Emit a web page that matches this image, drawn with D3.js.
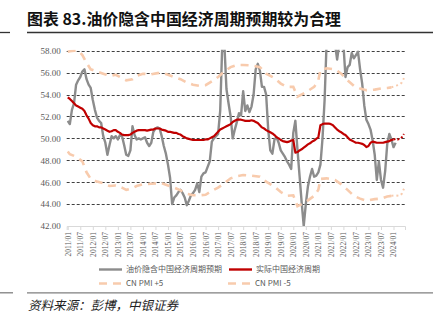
<!DOCTYPE html>
<html><head><meta charset="utf-8">
<script src="https://cdn.jsdelivr.net/npm/d3@7"></script>
<style>body{margin:0;background:#fff}</style></head>
<body><svg id="c" width="436" height="334"></svg>
<script>
// ---- data (monthly, starting 2011/01) ----
const startYear = 2011;
const tickLabels = ["2011/01","2011/07","2012/01","2012/07","2013/01","2013/07","2014/01","2014/07","2015/01","2015/07","2016/01","2016/07","2017/01","2017/07","2018/01","2018/07","2019/01","2019/07","2020/01","2020/07","2021/01","2021/07","2022/01","2022/07","2023/01","2023/07","2024/01"];
const yTicks = [42,44,46,48,50,52,54,56,58];

// 油价隐含中国经济周期预期 (monthly from 2011/01)
const oilImplied = [51.6,51.3,52.6,53.2,54.9,55.3,55.6,56.1,56.3,55.4,54.9,54.6,
53.5,52.6,51.9,51.6,51.4,50.2,49.6,48.5,49.4,50.2,50.0,50.2,
49.9,50.3,50.2,49.4,48.5,48.4,48.9,51.1,50.3,49.9,50.0,49.9,
50.0,50.1,49.6,49.3,49.6,50.6,50.9,51.0,50.9,50.2,49.3,48.6,
47.6,46.4,44.0,44.6,44.8,45.1,45.3,45.0,44.6,43.9,44.3,44.8,
45.0,45.3,45.9,45.1,46.5,46.8,46.9,47.4,47.9,49.7,50.0,50.2,
50.4,52.5,58.6,58.6,54.5,53.2,52.0,50.0,50.8,51.5,52.3,52.1,
54.3,52.5,53.0,52.4,52.9,54.0,56.3,56.8,56.2,54.7,54.7,54.0,
50.8,48.9,48.6,49.9,50.1,49.6,48.9,48.6,48.3,47.9,47.6,47.2,
50.5,51.6,49.0,46.6,44.2,42.0,44.0,45.6,46.5,47.2,46.5,46.6,
46.9,47.6,50.0,53.5,59.0,60.0,61.0,60.0,58.6,57.2,58.6,59.5,
58.6,55.6,56.5,56.7,57.8,57.3,57.6,57.9,56.3,55.0,53.0,51.7,
51.3,50.8,49.8,48.5,46.2,47.9,46.2,45.5,47.0,49.5,50.4,49.9,
49.2,49.6];

// 实际中国经济周期 (monthly from 2011/01; last points are the dotted tail)
const actualCycle = [53.75,53.6,53.4,53.2,53.0,52.9,52.8,52.7,52.5,52.1,51.8,51.4,
51.2,51.1,51.1,51.0,51.0,50.9,50.8,50.7,50.6,50.65,50.75,50.75,
50.6,50.5,50.35,50.3,50.3,50.3,50.35,50.5,50.6,50.7,50.75,50.75,
50.75,50.75,50.7,50.75,50.8,50.8,50.9,50.9,50.9,50.8,50.75,50.7,
50.6,50.6,50.55,50.5,50.5,50.4,50.35,50.2,50.1,50.0,49.95,49.9,
49.85,49.85,49.85,49.85,49.85,49.85,49.9,49.9,50.0,50.1,50.2,50.4,
50.6,50.8,50.9,51.0,51.1,51.2,51.3,51.5,51.6,51.7,51.7,51.7,
51.65,51.6,51.6,51.6,51.65,51.6,51.5,51.4,51.2,51.0,50.9,50.75,
50.65,50.55,50.45,50.3,50.1,50.0,49.85,49.75,49.7,49.65,49.7,49.8,
49.85,48.7,48.75,48.9,49.0,49.15,49.3,49.45,49.55,49.7,49.8,49.95,
50.1,51.2,51.3,51.35,51.35,51.35,51.3,51.2,51.0,50.8,50.65,50.55,
50.4,50.3,50.1,49.9,49.8,49.7,49.6,49.6,49.55,49.5,49.4,49.2,
49.3,49.6,49.7,49.65,49.6,49.6,49.6,49.6,49.65,49.7,49.75,49.85,
49.9,49.95,49.9,49.95,50.1,50.4];
const actualSolidEnd = 156; // month index where dotted tail begins

// CN PMI +5 / -5 (read at these month offsets from 2011/01)
const pmiMonths = [0,1,3,5,7,9,11,14,17,20,23,26,28,31,33,36,40,43,45,48,51,54,57,60,63,66,69,72,75,78,81,84,88,92,95,99,102,105,108,110,114,118,120,121,124,128,131,134,137,140,143,147,150,153,155,157,159,160,161];
const pmiPlus5 = [57.9,57.95,58.0,58.0,57.6,56.9,56.3,56.1,55.9,55.7,55.8,55.5,55.3,55.4,55.7,55.9,55.85,55.95,56.0,55.8,55.6,55.4,55.1,54.9,54.8,54.85,55.2,55.6,56.1,56.5,56.7,56.7,56.65,56.5,55.9,55.5,55.0,54.7,54.7,53.8,54.2,54.7,55.3,56.25,56.4,56.3,55.9,55.3,54.8,54.55,54.4,54.45,54.55,54.6,54.65,54.8,54.9,55.1,55.5];
const pmiMinus5 = [48.8,48.55,48.4,48.2,47.9,46.9,46.3,46.05,45.9,45.65,45.7,45.5,45.3,45.45,45.65,45.8,45.85,45.9,45.9,45.7,45.5,45.25,44.95,44.8,44.8,44.85,45.2,45.5,45.9,46.35,46.55,46.65,46.6,46.5,46.05,45.6,45.1,44.75,44.8,43.8,44.2,44.75,45.3,46.3,46.35,46.2,45.8,45.3,44.75,44.5,44.3,44.45,44.5,44.7,44.75,44.8,44.75,44.95,45.4];
const pmiSolidEnd = 155;

const seriesNames = ["油价隐含中国经济周期预期","实际中国经济周期","CN PMI +5","CN PMI -5"];
const colors = {oil:"#8c8c8c", actual:"#c00000", pmi:"#f8cbad"};

// ---- drawing ----
const svg = d3.select("#c");
const L = 66.7, R = 405, T = 50.7, B = 226;
const x = d3.scaleLinear().domain([-0.5, 161.5]).range([L, R]);
const y = d3.scaleLinear().domain([42, 58]).range([B, T]);
const idx = s => (+s.slice(0,4) - startYear) * 12 + (+s.slice(5,7) - 1);

// title
svg.append("text").attr("x",27).attr("y",25)
  .attr("font-family","'Noto Sans CJK SC','Noto Sans',sans-serif")
  .attr("font-weight","bold").attr("font-size",15.5).attr("fill","#111")
  .attr("textLength",314).attr("lengthAdjust","spacingAndGlyphs")
  .text("图表 83.油价隐含中国经济周期预期较为合理");
svg.append("line").attr("x1",0).attr("x2",10).attr("y1",32.5).attr("y2",32.5).attr("stroke","#333").attr("stroke-width",1.3);
svg.append("line").attr("x1",27).attr("x2",433).attr("y1",32.5).attr("y2",32.5).attr("stroke","#333").attr("stroke-width",1.3);

// gridlines
svg.append("g").selectAll("line").data(yTicks.filter(v => v > 42)).join("line")
  .attr("x1",L).attr("x2",R).attr("y1",d=>Math.round(y(d))+0.5).attr("y2",d=>Math.round(y(d))+0.5)
  .attr("stroke","#404040").attr("stroke-width",1).attr("stroke-dasharray","3,2");

// y axis
const ya = svg.append("g").attr("transform",`translate(${L-4},0)`)
  .call(d3.axisLeft(y).tickValues(yTicks).tickFormat(d3.format(".2f")).tickSize(0).tickPadding(2));
ya.select(".domain").remove();
ya.selectAll("text").attr("font-family","'Liberation Serif',serif").attr("font-size",9).attr("fill","#595959");

// x axis
const xa = svg.append("g").attr("transform",`translate(0,${B})`)
  .call(d3.axisBottom(x).tickValues(tickLabels.map(idx)).tickSize(4)
    .tickFormat(d => tickLabels.find(t => idx(t) === d)));
xa.select(".domain").attr("stroke","#d9d9d9");
xa.selectAll(".tick line").attr("stroke","#d9d9d9");
xa.selectAll("text").attr("transform","rotate(-90)").attr("text-anchor","end")
  .attr("x",-6).attr("y",0).attr("dy","0.32em")
  .attr("font-family","'Liberation Serif',serif").attr("font-size",7.6).attr("fill","#595959");

// clip
svg.append("clipPath").attr("id","clip").append("rect").attr("x",L).attr("y",T-1).attr("width",R-L).attr("height",B-T+1);
const plot = svg.append("g").attr("clip-path","url(#clip)");
const line = d3.line().x(d=>x(d[0])).y(d=>y(d[1]));

const oilPts = oilImplied.map((v,i)=>[i,v]);
const actPts = actualCycle.map((v,i)=>[i,v]);
const upPts = pmiMonths.map((m,i)=>[m,pmiPlus5[i]]);
const loPts = pmiMonths.map((m,i)=>[m,pmiMinus5[i]]);

plot.append("path").attr("d",line(oilPts)).attr("fill","none").attr("stroke",colors.oil).attr("stroke-width",2.4).attr("stroke-linejoin","round");
plot.append("path").attr("d",line(actPts.filter(d=>d[0]<=actualSolidEnd))).attr("fill","none").attr("stroke",colors.actual).attr("stroke-width",2.2).attr("stroke-linejoin","round");
plot.append("path").attr("d",line(actPts.filter(d=>d[0]>=actualSolidEnd))).attr("fill","none").attr("stroke",colors.actual).attr("stroke-width",2).attr("stroke-dasharray","2,2");
[upPts, loPts].forEach(pts => {
  plot.append("path").attr("d",line(pts.filter(d=>d[0]<=pmiSolidEnd))).attr("fill","none").attr("stroke",colors.pmi).attr("stroke-width",2.6).attr("stroke-dasharray","8,6");
  plot.append("path").attr("d",line(pts.filter(d=>d[0]>=pmiSolidEnd))).attr("fill","none").attr("stroke",colors.pmi).attr("stroke-width",2).attr("stroke-dasharray","2,3");
});

// legend
const lg = svg.append("g").attr("font-family","'Noto Sans CJK SC','Noto Sans',sans-serif").attr("font-size",8).attr("fill","#595959");
const legendItems = [
  {name:seriesNames[0], x:99, y:269.5, color:colors.oil, dash:null, w:2.4},
  {name:seriesNames[1], x:229, y:269.5, color:colors.actual, dash:null, w:2.4},
  {name:seriesNames[2], x:99, y:283.5, color:colors.pmi, dash:"8,6", w:2.6},
  {name:seriesNames[3], x:228, y:283.5, color:colors.pmi, dash:"8,6", w:2.6}
];
legendItems.forEach(it => {
  lg.append("line").attr("x1",it.x).attr("x2",it.x+23).attr("y1",it.y).attr("y2",it.y)
    .attr("stroke",it.color).attr("stroke-width",it.w).attr("stroke-dasharray",it.dash);
  lg.append("text").attr("x",it.x+27).attr("y",it.y).attr("dy","0.35em").text(it.name);
});

// source
svg.append("line").attr("x1",0).attr("x2",13).attr("y1",292.8).attr("y2",292.8).attr("stroke","#7f7f7f").attr("stroke-width",1.3);
svg.append("line").attr("x1",27).attr("x2",433).attr("y1",292.8).attr("y2",292.8).attr("stroke","#7f7f7f").attr("stroke-width",1.3);
svg.append("text").attr("x",28).attr("y",310).attr("font-family","'Noto Sans CJK SC',sans-serif")
  .attr("font-style","italic").attr("font-size",12.5).attr("fill","#222").text("资料来源：彭博，中银证券");
</script></body></html>
